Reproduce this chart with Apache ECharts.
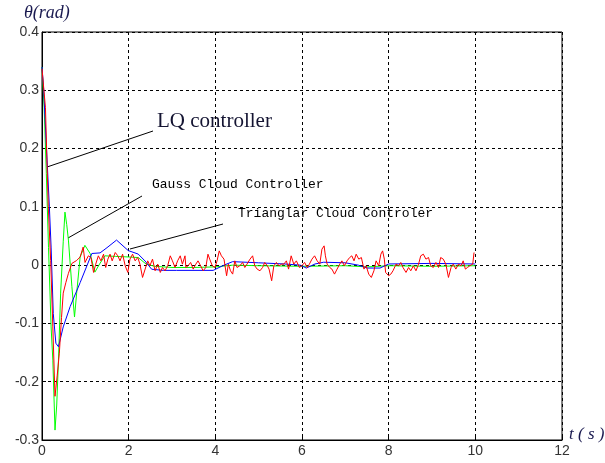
<!DOCTYPE html>
<html>
<head>
<meta charset="utf-8">
<script src="https://cdn.jsdelivr.net/npm/echarts@6/dist/echarts.min.js"></script>
<style>html,body{margin:0;padding:0;background:#fff}#c{width:605px;height:463px}</style>
</head>
<body>
<div id="c"></div>
<script>
var xTicks = [0, 2, 4, 6, 8, 10, 12];
var yTicks = [-0.3, -0.2, -0.1, 0, 0.1, 0.2, 0.3, 0.4];

var lqT = [0,0.046,0.08,0.12,0.145,0.2,0.25,0.3,0.35,0.40,0.45,0.49,0.55,0.61,0.69,0.80,0.88,0.95,
0.993,1.07,1.13,1.19,1.24,1.30,1.36,1.42,1.47,1.52,1.57,1.62,1.69,1.75,1.80,1.86,1.92,1.98,2.03,2.09,2.15,2.21,2.26,2.32,2.38,2.44,2.49,2.55,2.61,2.67,2.73,2.78,2.84,2.90,2.96,3.01,3.07,3.13,3.19,3.24,3.30,
3.32,3.37,3.43,3.49,3.55,3.60,3.66,3.72,3.78,3.83,3.87,3.93,3.99,4.04,4.09,4.14,4.20,4.26,4.30,4.35,4.40,4.45,4.50,4.565,4.63,4.68,4.73,4.80,4.86,4.91,4.965,5.03,5.09,5.14,5.20,5.24,5.30,5.35,5.41,5.47,5.53,
5.58,5.64,5.69,5.75,5.81,5.87,5.94,5.997,6.06,6.12,6.17,6.23,6.29,6.35,6.41,6.46,6.51,6.54,6.58,6.64,6.69,6.75,6.81,6.87,6.92,6.98,7.04,7.10,7.15,7.20,7.25,7.31,7.37,7.43,7.48,7.54,7.60,7.66,7.71,7.77,
7.82,7.86,7.90,7.93,8.00,8.05,8.10,8.17,8.23,8.28,8.33,8.40,8.46,8.51,8.57,8.63,8.69,8.74,8.80,8.86,8.92,8.97,9.03,9.09,9.15,9.20,9.26,9.32,9.38,9.44,9.49,9.55,9.61,9.67,9.72,9.77,9.82,9.87,9.94,9.97];
var lqV = [0.337,0.334,0.27,0.163,0.1,0.008,-0.106,-0.225,-0.19,-0.151,-0.09,-0.048,-0.03,-0.014,0.003,0.008,0.014,0.031,
0.0046,0.016,0.013,-0.0125,0.0017,0.016,0.0074,0.0188,-0.004,0.0103,0.0188,0.0074,0.0217,0.016,0.0074,0.0188,-0.0011,-0.0125,0.0103,0.0188,0.0074,0.0131,0.0017,-0.0211,-0.0068,0.0074,-0.0011,0.0103,-0.0097,0.0017,-0.0125,-0.004,-0.0097,-0.0011,0.016,0.0074,-0.004,0.0074,0.016,0.0017,0.016,
-0.004,-0.0011,0.0046,-0.0068,0.0017,0.0074,-0.0011,-0.0097,-0.004,0.0188,0.0103,-0.0011,-0.004,0.0074,0.0245,0.016,0.0103,-0.0182,0.0017,-0.0097,-0.0154,0.0074,-0.004,-0.0011,0.0046,-0.004,0.0017,0.0103,0.016,-0.0011,-0.0068,-0.0097,-0.004,0.0046,-0.0011,-0.0068,-0.0268,-0.0011,0.0046,-0.0011,0.0017,
0.0017,0.0074,-0.0068,0.016,0.0017,0.0074,-0.004,-0.0011,0.0046,-0.004,0.0017,0.0103,0.016,0.0074,0.0017,0.0274,0.0331,0.016,0.0017,-0.004,-0.0068,-0.0154,-0.0068,0.0017,0.0074,-0.0011,0.0074,0.0131,0.016,0.0074,0.0188,0.0103,0.0131,-0.0068,-0.0011,-0.0154,-0.0211,-0.0097,0.0074,-0.0011,
0.0188,0.0245,0.0103,-0.0125,-0.0182,-0.0154,-0.0097,0.0017,-0.0011,0.0046,-0.004,-0.0125,-0.004,-0.0097,-0.0011,-0.0097,0.0017,0.016,0.0188,0.0103,0.0131,-0.0011,-0.004,0.0046,-0.004,0.0131,0.0103,0.0017,-0.0211,-0.004,0.0017,-0.0068,0.0017,-0.0011,0.0074,-0.0068,-0.004,-0.0011,0.0017,0.0217];

var gaussT = [0,0.05,0.1,0.15,0.21,0.25,0.30,0.34,0.38,0.43,0.49,0.53,0.57,0.61,0.69,0.75,0.80,0.88,0.99,1.11,1.22,1.33,1.45,1.7,2.0,2.22,2.4,2.6,3.0,3.5,4.0,4.4,5.0,6.0,7.0,7.5,8.0,9.0,10.0];
var gaussV = [0.34,0.27,0.157,0.03,-0.106,-0.163,-0.283,-0.24,-0.163,-0.048,0.04,0.091,0.07,0.043,-0.037,-0.089,-0.048,0.014,0.034,0.02,-0.012,0.002,0.016,0.015,0.014,0.013,0.002,-0.002,-0.004,-0.004,-0.003,0.0,-0.001,-0.002,-0.001,-0.003,-0.001,-0.002,-0.001];

var triT = [0,0.04,0.08,0.17,0.21,0.26,0.32,0.38,0.49,0.65,0.88,1.15,1.34,1.5,1.72,1.99,2.22,2.38,2.53,2.8,3.1,3.95,4.2,4.4,5.0,5.6,5.96,6.1,6.3,6.5,7.0,7.3,7.5,7.8,8.0,9.0,10.0];
var triV = [0.34,0.3,0.237,0.1,0.031,-0.083,-0.134,-0.14,-0.106,-0.071,-0.03,0.02,0.021,0.03,0.043,0.025,0.019,0.007,-0.007,-0.009,-0.009,-0.009,0.0,0.006,0.004,0.002,0.0,-0.005,0.002,0.005,0.004,0.0,-0.005,-0.005,0.002,0.003,0.002];

function pairs(t, v) { return t.map(function (x, i) { return [x, v[i]]; }); }

var chart = echarts.init(document.getElementById('c'), null, {renderer: 'canvas'});
var dash = {color: '#000', width: 1, type: [3, 3]};
chart.setOption({
  animation: false,
  backgroundColor: '#fff',
  grid: {left: 42, right: 43, top: 32, bottom: 23, show: true, borderColor: '#000', borderWidth: 1},
  xAxis: {
    type: 'value', min: xTicks[0], max: xTicks[xTicks.length - 1], interval: 2,
    axisLine: {show: true, onZero: false, lineStyle: {color: '#000'}},
    axisTick: {show: true, inside: true, length: 4, lineStyle: {color: '#000'}},
    axisLabel: {color: '#333', fontFamily: 'Liberation Sans', fontSize: 14, margin: 4},
    splitLine: {show: true, lineStyle: dash}
  },
  yAxis: {
    type: 'value', min: yTicks[0], max: yTicks[yTicks.length - 1], interval: 0.1,
    axisLine: {show: true, onZero: false, lineStyle: {color: '#000'}},
    axisTick: {show: true, inside: true, length: 4, lineStyle: {color: '#000'}},
    axisLabel: {color: '#333', fontFamily: 'Liberation Sans', fontSize: 14, margin: 3,
      formatter: function (v) { var r = Math.round(v * 10) / 10; return r === 0 ? '0' : String(r); }},
    splitLine: {show: true, lineStyle: dash}
  },
  series: [
    {type: 'line', name: 'Gauss Cloud Controller', data: pairs(gaussT, gaussV), showSymbol: false, lineStyle: {color: '#00ff00', width: 1}, z: 2},
    {type: 'line', name: 'Trianglar Cloud Controler', data: pairs(triT, triV), showSymbol: false, lineStyle: {color: '#0000ff', width: 1}, z: 3},
    {type: 'line', name: 'LQ controller', data: pairs(lqT, lqV), showSymbol: false, lineStyle: {color: '#ff0000', width: 1}, z: 4}
  ],
  graphic: [
    {type: 'text', left: 24, top: 4, style: {text: 'θ(rad)', font: 'italic 18px "Liberation Serif"', fill: '#1a1a50'}},
    {type: 'text', left: 569, top: 426, style: {text: 't ( s )', font: 'italic 17px "Liberation Serif"', fill: '#1a1a50'}},
    {type: 'text', left: 157, top: 111, style: {text: 'LQ controller', font: '21px "Liberation Serif"', fill: '#141432'}},
    {type: 'text', left: 152, top: 178, style: {text: 'Gauss Cloud Controller', font: '13px "Liberation Mono"', fill: '#000'}},
    {type: 'text', left: 238, top: 207, style: {text: 'Trianglar Cloud Controler', font: '13px "Liberation Mono"', fill: '#000'}},
    {type: 'line', shape: {x1: 47, y1: 167, x2: 153, y2: 131}, style: {stroke: '#000', lineWidth: 1}},
    {type: 'line', shape: {x1: 68, y1: 238, x2: 142, y2: 196}, style: {stroke: '#000', lineWidth: 1}},
    {type: 'line', shape: {x1: 130, y1: 249, x2: 223, y2: 224}, style: {stroke: '#000', lineWidth: 1}}
  ]
});
</script>
</body>
</html>
